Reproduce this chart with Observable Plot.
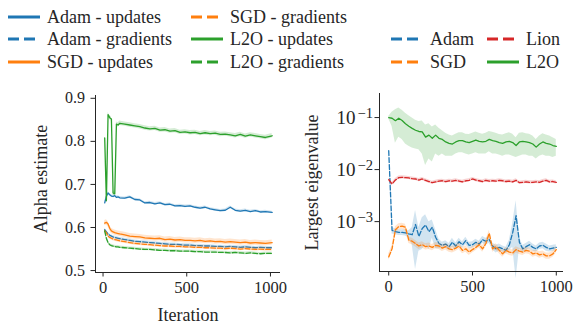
<!DOCTYPE html>
<html><head><meta charset="utf-8">
<script src="https://cdn.jsdelivr.net/npm/d3@7"></script>
<script src="https://cdn.jsdelivr.net/npm/@observablehq/plot@0.6"></script>
<style>
body{margin:0;background:#fff;}
#wrap{position:relative;width:573px;height:327px;font-family:"Liberation Serif",serif;color:#262626;overflow:hidden;}
#wrap svg text{font-family:"Liberation Serif",serif !important;}
.panel{position:absolute;top:0;}
.leg{position:absolute;display:flex;align-items:center;font-family:"Liberation Serif",serif;font-size:18px;white-space:nowrap;line-height:20px;height:20px;}
.leg svg{margin-right:6px;flex:none;}
</style></head><body><div id="wrap"></div>
<script>
// ---------- Left panel data (alpha estimate) ----------
const iterL = [10,20,30,40,50,60,70,80,90,100,130,160,190,220,250,280,310,340,370,400,430,460,490,520,550,580,610,640,670,700,730,760,790,820,850,880,910,940,970,1010];
const adamUpd = [0.657,0.672,0.680,0.676,0.673,0.672,0.674,0.670,0.671,0.669,0.668,0.671,0.665,0.664,0.657,0.658,0.655,0.657,0.653,0.654,0.650,0.651,0.649,0.650,0.647,0.645,0.647,0.643,0.641,0.639,0.640,0.647,0.640,0.638,0.640,0.637,0.639,0.636,0.637,0.635];
const adamGrad = [0.595,0.590,0.585,0.582,0.580,0.578,0.577,0.576,0.575,0.574,0.572,0.570,0.568,0.567,0.566,0.565,0.564,0.563,0.562,0.561,0.561,0.560,0.559,0.559,0.558,0.558,0.557,0.557,0.556,0.556,0.555,0.556,0.555,0.554,0.555,0.554,0.553,0.554,0.553,0.553];
const sgdUpd = [0.610,0.612,0.608,0.598,0.592,0.590,0.588,0.587,0.586,0.585,0.583,0.580,0.579,0.578,0.576,0.575,0.574,0.575,0.572,0.573,0.571,0.572,0.570,0.570,0.569,0.570,0.568,0.569,0.567,0.568,0.566,0.567,0.566,0.565,0.566,0.564,0.565,0.564,0.563,0.565];
const sgdGrad = [0.592,0.588,0.580,0.577,0.575,0.573,0.572,0.571,0.570,0.569,0.567,0.565,0.563,0.562,0.561,0.560,0.559,0.558,0.557,0.557,0.556,0.556,0.555,0.555,0.554,0.554,0.553,0.553,0.552,0.552,0.551,0.552,0.551,0.550,0.551,0.550,0.549,0.550,0.549,0.549];
const l2oUpd = [0.808,0.662,0.862,0.855,0.852,0.680,0.678,0.840,0.838,0.842,0.840,0.838,0.836,0.834,0.831,0.829,0.830,0.826,0.827,0.824,0.825,0.821,0.822,0.820,0.821,0.818,0.820,0.818,0.819,0.816,0.817,0.815,0.813,0.816,0.812,0.815,0.813,0.811,0.809,0.813];
const l2oGrad = [0.592,0.575,0.565,0.560,0.558,0.557,0.556,0.555,0.555,0.554,0.553,0.552,0.551,0.550,0.549,0.549,0.548,0.547,0.547,0.546,0.546,0.545,0.545,0.545,0.544,0.544,0.543,0.543,0.543,0.542,0.542,0.541,0.542,0.541,0.540,0.541,0.540,0.539,0.540,0.540];
const stdAdamUpd = 0.003, stdAdamGrad = 0.003, stdSgdUpd = 0.006, stdSgdGrad = 0.004, stdL2oUpd = 0.005, stdL2oGrad = 0.003;
const xTicks = [0, 500, 1000];
const yTicksL = [0.5, 0.6, 0.7, 0.8, 0.9];

// ---------- Right panel data (largest eigenvalue) ----------
const iterR = [0,20,40,60,80,100,120,140,160,180,200,220,240,260,280,300,320,340,360,380,400,420,440,460,480,500,520,540,560,580,600,620,640,660,680,700,720,740,760,780,800,820,840,860,880,900,920,940,960,980,1000];
const eigAdam = [0.023,0.00068,0.00064,0.00062,0.00062,0.00061,0.00058,0.00056,0.00088,0.00052,0.00074,0.00086,0.00064,0.00078,0.00050,0.00038,0.00035,0.00037,0.00033,0.00040,0.00034,0.00041,0.00036,0.00043,0.00035,0.00036,0.00040,0.00037,0.00045,0.00042,0.00045,0.00034,0.00030,0.00032,0.00030,0.00028,0.00036,0.00062,0.00130,0.00040,0.00030,0.00033,0.00036,0.00032,0.00030,0.00034,0.00035,0.00032,0.00030,0.00031,0.00032];
const stdEigAdam = [0.0015,0.0001,0.00008,0.00008,0.00008,0.00008,0.00009,0.0002,0.00076,0.00025,0.00045,0.0005,0.00035,0.0003,0.0002,0.00008,0.00005,0.00006,0.00005,0.00008,0.00005,0.00007,0.00005,0.00007,0.00005,0.00005,0.00006,0.00005,0.00007,0.00006,0.00007,0.00005,0.00005,0.00005,0.00004,0.00004,0.00008,0.0003,0.00122,0.0001,0.00005,0.00005,0.00006,0.00005,0.00004,0.00005,0.00005,0.00005,0.00004,0.00004,0.00004];
const eigSgd = [0.00021,0.00030,0.00070,0.00080,0.00082,0.00078,0.00044,0.00042,0.00038,0.00034,0.00036,0.00033,0.00034,0.00032,0.00035,0.00034,0.00031,0.00033,0.00030,0.00029,0.00031,0.00034,0.00028,0.00030,0.00026,0.00029,0.00032,0.00036,0.00030,0.00038,0.00060,0.00030,0.00033,0.00028,0.00024,0.00028,0.00026,0.00025,0.00029,0.00027,0.00026,0.00028,0.00027,0.00024,0.00025,0.00023,0.00024,0.00022,0.00022,0.00024,0.00029];
const eigLion = [0.0064,0.0053,0.0063,0.0070,0.0071,0.0070,0.0069,0.0067,0.0066,0.0063,0.0066,0.0062,0.0059,0.0056,0.0058,0.0060,0.0061,0.0059,0.0061,0.0060,0.0062,0.0060,0.0058,0.0061,0.0062,0.0066,0.0063,0.0061,0.0059,0.0062,0.0060,0.0061,0.0060,0.0062,0.0061,0.0059,0.0060,0.0058,0.0062,0.0056,0.0057,0.0058,0.0057,0.0057,0.0058,0.0057,0.0060,0.0062,0.0058,0.0059,0.0057];
const eigL2o = [0.100,0.097,0.087,0.097,0.088,0.076,0.068,0.062,0.057,0.054,0.053,0.042,0.046,0.040,0.046,0.040,0.038,0.034,0.032,0.031,0.034,0.036,0.036,0.034,0.033,0.035,0.037,0.035,0.034,0.035,0.038,0.036,0.035,0.033,0.032,0.034,0.035,0.033,0.029,0.034,0.035,0.034,0.033,0.031,0.027,0.031,0.034,0.032,0.031,0.029,0.028];
const stdEigL2o = [0.005,0.03,0.055,0.055,0.05,0.045,0.04,0.036,0.032,0.03,0.033,0.03,0.03,0.026,0.026,0.022,0.018,0.016,0.014,0.013,0.014,0.015,0.015,0.014,0.014,0.015,0.016,0.015,0.014,0.015,0.016,0.016,0.015,0.014,0.014,0.015,0.016,0.015,0.012,0.016,0.016,0.015,0.015,0.013,0.011,0.013,0.015,0.014,0.013,0.012,0.010];
const relStdSgd = 0.14, relStdLion = 0.07;
const yTicksR = [1e-3, 1e-2, 1e-1];

// ---------- helpers ----------
const COL = {blue:"#1f77b4", orange:"#ff7f0e", green:"#2ca02c", red:"#d62728"};
const INK = "#262626";
const DASH = "4.8,2.1";
const SERIF = '"Liberation Serif", serif';
function rows(xs, vals, std) {
  return xs.map((x, i) => {
    const s = typeof std === "function" ? std(vals[i], i) : (Array.isArray(std) ? std[i] : std);
    return {x, y: vals[i], lo: vals[i] - s, hi: vals[i] + s};
  });
}
function seriesMarks(list) {
  const m = [];
  for (const s of list) {
    m.push(Plot.areaY(s.data, {x: "x", y1: "lo", y2: "hi", fill: s.color, fillOpacity: 0.2}));
    m.push(Plot.lineY(s.data, {x: "x", y: "y", stroke: s.color, strokeWidth: 1.3, strokeDasharray: s.dash ? DASH : undefined}));
  }
  return m;
}
const wrap = document.getElementById("wrap");
const baseStyle = {fontFamily: SERIF, fontSize: "16px", color: INK, background: "transparent", overflow: "visible"};

// ---------- Left plot ----------
const leftList = [
  {data: rows(iterL, adamUpd, stdAdamUpd), color: COL.blue, dash: false},
  {data: rows(iterL, adamGrad, stdAdamGrad), color: COL.blue, dash: true},
  {data: rows(iterL, sgdUpd, stdSgdUpd), color: COL.orange, dash: false},
  {data: rows(iterL, sgdGrad, stdSgdGrad), color: COL.orange, dash: true},
  {data: rows(iterL, l2oUpd, stdL2oUpd), color: COL.green, dash: false},
  {data: rows(iterL, l2oGrad, stdL2oGrad), color: COL.green, dash: true}
];
const xDomL = [-45, 1060], yDomL = [0.4955, 0.9065];
const left = Plot.plot({
  width: 290, height: 327, marginLeft: 95, marginRight: 10, marginTop: 95, marginBottom: 55,
  style: baseStyle,
  x: {domain: xDomL}, y: {domain: yDomL},
  marks: [
    ...seriesMarks(leftList),
    Plot.ruleX([xDomL[0]], {stroke: INK, strokeWidth: 1}),
    Plot.ruleY([yDomL[0]], {stroke: INK, strokeWidth: 1}),
    Plot.axisX({ticks: xTicks, tickFormat: d => String(d), tickSize: 4.5, tickPadding: 4, label: null, stroke: INK, fontFamily: SERIF, fontSize: 16.5}),
    Plot.axisY({ticks: yTicksL, tickFormat: d => d.toFixed(1), tickSize: 4.5, tickPadding: 6, label: null, stroke: INK, fontFamily: SERIF, fontSize: 16}),
    Plot.text(["Alpha estimate"], {text: d => d, frameAnchor: "left", dx: -54, dy: -5, rotate: -90, fontSize: 18, fontFamily: SERIF, textAnchor: "middle", lineAnchor: "middle", fill: INK}),
    Plot.text(["Iteration"], {text: d => d, frameAnchor: "bottom", dy: 43, fontSize: 18, fontFamily: SERIF, textAnchor: "middle", lineAnchor: "middle", fill: INK})
  ]
});
left.classList.add("panel"); left.style.left = "0px";
wrap.appendChild(left);

// ---------- Right plot ----------
const rightList = [
  {data: rows(iterR, eigAdam, stdEigAdam), color: COL.blue, dash: true},
  {data: rows(iterR, eigSgd, v => v * relStdSgd), color: COL.orange, dash: true},
  {data: rows(iterR, eigLion, v => v * relStdLion), color: COL.red, dash: true},
  {data: rows(iterR, eigL2o, stdEigL2o), color: COL.green, dash: false}
];
const xDomR = [-55, 1043], yDomR = [0.00011, 0.29];
const right = Plot.plot({
  width: 283, height: 327, marginLeft: 89, marginRight: 10, marginTop: 93, marginBottom: 56,
  style: baseStyle,
  x: {domain: xDomR}, y: {type: "log", domain: yDomR},
  marks: [
    ...seriesMarks(rightList),
    Plot.ruleX([xDomR[0]], {stroke: INK, strokeWidth: 1}),
    Plot.ruleY([yDomR[0]], {stroke: INK, strokeWidth: 1}),
    Plot.axisX({ticks: xTicks, tickFormat: d => String(d), tickSize: 4.5, tickPadding: 4, label: null, stroke: INK, fontFamily: SERIF, fontSize: 16.5}),
    Plot.axisY({ticks: yTicksR, tickFormat: d => String(Math.round(Math.log10(d))), tickSize: 4.5, tickPadding: 2, label: null, stroke: INK, fontFamily: SERIF, fontSize: 19}),
    Plot.text(["Largest eigenvalue"], {text: d => d, frameAnchor: "left", dx: -67, rotate: -90, fontSize: 18, fontFamily: SERIF, textAnchor: "middle", lineAnchor: "middle", fill: INK})
  ]
});
right.classList.add("panel"); right.style.left = "290px";
wrap.appendChild(right);
// superscript exponents on log ticks
right.querySelectorAll('g[aria-label="y-axis tick label"] text').forEach(t => {
  const e = t.textContent.replace("-", "\u2212");
  t.textContent = "";
  const ns = "http://www.w3.org/2000/svg";
  const a = document.createElementNS(ns, "tspan"); a.textContent = "10";
  const b = document.createElementNS(ns, "tspan"); b.textContent = e;
  b.setAttribute("dy", "-6"); b.setAttribute("dx", "2"); b.setAttribute("font-size", "14.5");
  t.appendChild(a); t.appendChild(b);
});

// ---------- Legends ----------
const legendLeft = [
  {label: "Adam - updates", color: COL.blue, dash: false, x: 7, y: 16.5},
  {label: "Adam - gradients", color: COL.blue, dash: true, x: 7, y: 39.3},
  {label: "SGD - updates", color: COL.orange, dash: false, x: 7, y: 62},
  {label: "SGD - gradients", color: COL.orange, dash: true, x: 190, y: 16.5},
  {label: "L2O - updates", color: COL.green, dash: false, x: 190, y: 39.3},
  {label: "L2O - gradients", color: COL.green, dash: true, x: 190, y: 62}
];
const legendRight = [
  {label: "Adam", color: COL.blue, dash: true, x: 390, y: 39.3},
  {label: "SGD", color: COL.orange, dash: true, x: 390, y: 62},
  {label: "Lion", color: COL.red, dash: true, x: 486, y: 39.3},
  {label: "L2O", color: COL.green, dash: false, x: 486, y: 62}
];
for (const it of [...legendLeft, ...legendRight]) {
  const d = document.createElement("div");
  d.className = "leg";
  d.style.left = it.x + "px";
  d.style.top = (it.y - 10) + "px";
  d.innerHTML = `<svg width="34" height="6"><line x1="1" y1="3" x2="33" y2="3" stroke="${it.color}" stroke-width="3" ${it.dash ? 'stroke-dasharray="11,5"' : ''}/></svg><span>${it.label}</span>`;
  wrap.appendChild(d);
}
</script></body></html>
